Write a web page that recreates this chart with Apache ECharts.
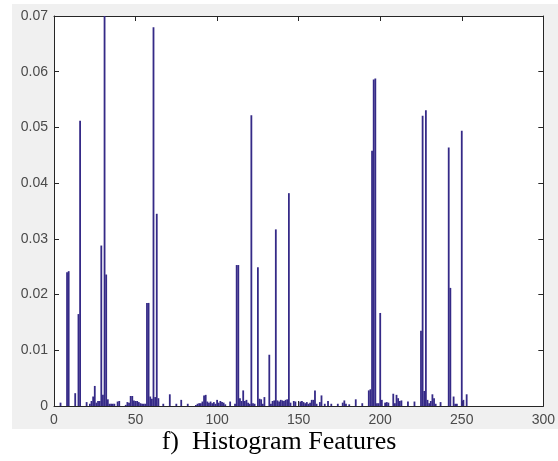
<!DOCTYPE html>
<html>
<head>
<meta charset="utf-8">
<script src="https://cdn.jsdelivr.net/npm/echarts@6/dist/echarts.min.js"></script>
<style>
html, body { margin: 0; padding: 0; background: #fff; }
#main { width: 558px; height: 461px; }
</style>
</head>
<body>
<div id="main"></div>
<script>
// histogram bins 0..255 (normalised counts)
var histValues = [
  0, 0, 0, 0, 0.0006, 0, 0, 0, 0.0240, 0.0242, 0, 0, 0, 0.0023, 0, 0.0165,
  0.0512, 0, 0, 0, 0.0007, 0, 0.0004, 0.0009, 0.0017, 0.0036, 0.0006, 0.0009, 0.0009, 0.0288, 0.0020, 0.0700,
  0.0236, 0.0012, 0.0004, 0.0004, 0.0004, 0.0004, 0, 0.0008, 0.0009, 0, 0, 0, 0.0002, 0.0007, 0.0006, 0.0018,
  0.0018, 0.0010, 0.0009, 0.0009, 0.0007, 0.0005, 0.0004, 0.0004, 0.0004, 0.0185, 0.0185, 0.0017, 0.0013, 0.0680, 0.0016, 0.0345,
  0.0014, 0, 0, 0.0004, 0, 0, 0, 0.0021, 0, 0, 0, 0.0004, 0, 0, 0.0011, 0,
  0, 0, 0.0004, 0, 0, 0, 0, 0.0002, 0.0004, 0.0005, 0.0005, 0.0008, 0.0019, 0.0020, 0.0008, 0.0006,
  0.0008, 0.0005, 0.0007, 0.0004, 0.0011, 0.0006, 0.0009, 0.0007, 0.0006, 0.0003, 0, 0, 0.0008, 0, 0, 0.0004,
  0.0253, 0.0253, 0.0014, 0.0009, 0.0028, 0.0009, 0.0011, 0.0006, 0.0004, 0.0522, 0.0005, 0.0004, 0, 0.0249, 0.0013, 0.0012,
  0.0004, 0.0016, 0, 0, 0.0092, 0.0004, 0.0009, 0.0010, 0.0317, 0.0010, 0.0008, 0.0011, 0.0010, 0.0009, 0.0011, 0.0012,
  0.0382, 0.0006, 0, 0.0009, 0.0008, 0, 0, 0.0008, 0.0009, 0.0007, 0.0005, 0.0007, 0.0004, 0.0006, 0.0011, 0.0011,
  0.0028, 0.0004, 0, 0.0007, 0.0019, 0, 0.0004, 0, 0.0009, 0, 0.0004, 0, 0, 0, 0.0004, 0,
  0, 0.0006, 0.0010, 0.0004, 0, 0.0003, 0, 0, 0, 0.0012, 0, 0, 0, 0.0005, 0, 0,
  0, 0.0028, 0.0030, 0.0458, 0.0586, 0.0588, 0.0005, 0.0005, 0.0167, 0.0011, 0, 0.0006, 0.0007, 0.0006, 0, 0,
  0.0022, 0.0005, 0.0020, 0.0014, 0.0009, 0.0010, 0, 0, 0, 0.0008, 0, 0, 0, 0.0008, 0, 0,
  0, 0.0135, 0.0521, 0.0027, 0.0531, 0.0011, 0.0005, 0.0009, 0.0021, 0.0014, 0.0004, 0, 0, 0.0007, 0, 0,
  0, 0, 0.0464, 0.0212, 0, 0.0017, 0.0004, 0.0004, 0, 0, 0.0494, 0.0011, 0, 0.0021, 0, 0
];
var xTicks = [0, 50, 100, 150, 200, 250, 300];
var yTicks = [0, 0.01, 0.02, 0.03, 0.04, 0.05, 0.06, 0.07];
var caption = 'f)  Histogram Features';

var barData = histValues.map(function (v, i) { return [i, v]; });

var axisCol = '#262626';
var labelCol = '#4a4a4a';
var labelFont = '"Liberation Sans", Arial, sans-serif';

var myChart = echarts.init(document.getElementById('main'), null, { renderer: 'canvas' });
var option = {
  animation: false,
  backgroundColor: '#ffffff',
  graphic: [
    {
      type: 'rect', z: -100,
      shape: { x: 12, y: 4, width: 546, height: 425 },
      style: { fill: '#f0f0f0' }
    },
    {
      type: 'text', left: 'center', top: 429,
      style: {
        text: caption,
        font: '26px "Liberation Serif", "Times New Roman", serif',
        fill: '#000'
      }
    }
  ],
  grid: {
    left: 54, right: 13, top: 16, bottom: 55,
    show: true, backgroundColor: '#ffffff', borderWidth: 0
  },
  xAxis: [
    {
      type: 'value', min: xTicks[0], max: xTicks[xTicks.length - 1], interval: 50,
      position: 'bottom',
      axisLine: { show: true, onZero: false, lineStyle: { color: axisCol, width: 1 } },
      axisTick: { show: true, inside: true, length: 5, lineStyle: { color: axisCol } },
      axisLabel: { color: labelCol, fontSize: 14, fontFamily: labelFont, margin: 7 },
      splitLine: { show: false }
    },
    {
      type: 'value', min: xTicks[0], max: xTicks[xTicks.length - 1], interval: 50,
      position: 'top',
      axisLine: { show: true, onZero: false, lineStyle: { color: axisCol, width: 1 } },
      axisTick: { show: true, inside: true, length: 5, lineStyle: { color: axisCol } },
      axisLabel: { show: false },
      splitLine: { show: false }
    }
  ],
  yAxis: [
    {
      type: 'value', min: yTicks[0], max: yTicks[yTicks.length - 1], interval: 0.01,
      position: 'left',
      axisLine: { show: true, onZero: false, lineStyle: { color: axisCol, width: 1 } },
      axisTick: { show: true, inside: true, length: 5, lineStyle: { color: axisCol } },
      axisLabel: {
        color: labelCol, fontSize: 14, fontFamily: labelFont, margin: 6,
        formatter: function (v) { return v === 0 ? '0' : v.toFixed(2); }
      },
      splitLine: { show: false }
    },
    {
      type: 'value', min: yTicks[0], max: yTicks[yTicks.length - 1], interval: 0.01,
      position: 'right',
      axisLine: { show: true, onZero: false, lineStyle: { color: axisCol, width: 1 } },
      axisTick: { show: true, inside: true, length: 5, lineStyle: { color: axisCol } },
      axisLabel: { show: false },
      splitLine: { show: false }
    }
  ],
  series: [
    {
      type: 'bar',
      xAxisIndex: 0, yAxisIndex: 0,
      data: barData,
      barWidth: 1.8,
      itemStyle: { color: '#352a87' },
      clip: true
    }
  ]
};
myChart.setOption(option);
</script>
</body>
</html>
